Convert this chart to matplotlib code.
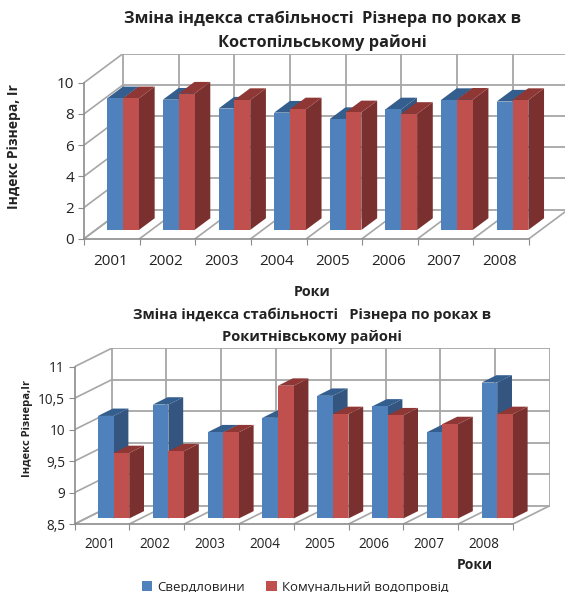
import matplotlib
matplotlib.use("Agg")
import matplotlib.pyplot as plt
from matplotlib.patches import Polygon, Patch

plt.rcParams['font.family'] = ['Open Sans', 'Noto Sans', 'DejaVu Sans']

W, H = 565, 592

years = ['2001', '2002', '2003', '2004', '2005', '2006', '2007', '2008']
series_names = ['Свердловини', 'Комунальний водопровід']

kostopil_wells = [8.44, 8.35, 7.78, 7.52, 7.11, 7.73, 8.33, 8.23]
kostopil_water = [8.44, 8.74, 8.33, 7.73, 7.54, 7.44, 8.35, 8.33]
kostopil_ticks = [0, 2, 4, 6, 8, 10]

rokytne_wells = [10.13, 10.31, 9.87, 10.10, 10.45, 10.28, 9.87, 10.66]
rokytne_water = [9.54, 9.57, 9.87, 10.61, 10.16, 10.14, 10.00, 10.16]
rokytne_ticks = [8.5, 9, 9.5, 10, 10.5, 11]

BLUE = ('#4F81BD', '#345E8E', '#33557F')
RED = ('#C0504D', '#8E3735', '#7A302E')
GRID = '#A6A6A6'
AXIS = '#8C8C8C'
TEXT = '#222222'


def tick_text(v):
    return f'{v:g}'.replace('.', ',')


def draw_bar3d(ax, left, width, base, value, colors, d0, d1, sx, sy):
    """Front face as an ordinary bar, top and side as sheared polygons."""
    fx0, fy0 = d0 * sx, d0 * sy
    ddx, ddy = (d1 - d0) * sx, (d1 - d0) * sy
    x0 = left + fx0
    x1 = x0 + width
    y0 = base + fy0
    y1 = value + fy0
    ax.add_patch(Polygon([(x1, y0), (x1 + ddx, y0 + ddy), (x1 + ddx, y1 + ddy), (x1, y1)],
                         closed=True, fc=colors[2], ec='none', zorder=3))
    ax.add_patch(Polygon([(x0, y1), (x1, y1), (x1 + ddx, y1 + ddy), (x0 + ddx, y1 + ddy)],
                         closed=True, fc=colors[1], ec='none', zorder=3))
    ax.bar(x0, value - base, width=width, bottom=y0, align='edge',
           color=colors[0], linewidth=0, zorder=3)


def draw_chart(box, ticks, wells, water, depth_px, gap, ylab, ylab_xy, ylab_size, tick_size, x_pad):
    x0, x1, ytop, ybot = box
    dx_px, dy_px = depth_px
    lo, hi = ticks[0], ticks[-1]
    sx = dx_px * 8 / (x1 - x0)
    sy = dy_px * (hi - lo) / (ybot - ytop)

    ax = fig.add_axes([x0 / W, 1 - (ybot + 0) / H,
                       (x1 - x0 + dx_px) / W, (ybot - ytop + dy_px) / H])
    ax.set_xlim(0, 8 + sx)
    ax.set_ylim(lo, hi + sy)
    ax.patch.set_alpha(0)

    # back wall, side wall and floor
    for t in ticks:
        ax.plot([sx, 8 + sx], [t + sy, t + sy], color=GRID, lw=1.3, zorder=1)
        ax.plot([0, sx], [t, t + sy], color=GRID, lw=1.2, zorder=1)
    for i in range(9):
        ax.plot([i + sx, i + sx], [lo + sy, hi + sy], color=GRID, lw=1.3, zorder=1)
        ax.plot([i, i + sx], [lo, lo + sy], color=GRID, lw=1.2, zorder=1)

    width = 0.285
    for i, (a, b) in enumerate(zip(wells, water)):
        draw_bar3d(ax, i + gap, width, lo, a, BLUE, 0.3, 0.7, sx, sy)
        draw_bar3d(ax, i + gap + width, width, lo, b, RED, 0.3, 0.7, sx, sy)

    for side in ('top', 'right'):
        ax.spines[side].set_visible(False)
    ax.spines['left'].set_bounds(lo, hi)
    ax.spines['bottom'].set_bounds(0, 8)
    for side in ('left', 'bottom'):
        ax.spines[side].set_color(AXIS)
        ax.spines[side].set_linewidth(1.2)

    ax.set_yticks(ticks, [tick_text(t) for t in ticks])
    ax.set_xticks(range(9), [''] * 9)
    ax.set_xticks([i + 0.47 for i in range(8)], years, minor=True)
    ax.tick_params(axis='y', length=4, color=AXIS, labelsize=tick_size, labelcolor=TEXT, pad=3)
    ax.tick_params(axis='x', which='major', length=4, color=AXIS)
    ax.tick_params(axis='x', which='minor', length=0, labelsize=tick_size, labelcolor=TEXT, pad=x_pad)

    fig.text(ylab_xy[0] / W, 1 - ylab_xy[1] / H, ylab, rotation=90, ha='center', va='center',
             fontsize=ylab_size, fontweight='bold', color=TEXT)
    return ax


fig = plt.figure(figsize=(W / 100, H / 100), dpi=100, facecolor='white')

draw_chart((84, 529, 82.7, 238.7), kostopil_ticks, kostopil_wells, kostopil_water,
           (39.2, 29.2), 0.207, 'Індекс Різнера, Ir', (14, 147), 10, 11, 11)
draw_chart((74.6, 513, 366.7, 524), rokytne_ticks, rokytne_wells, rokytne_water,
           (37, 18.4), 0.224, 'Індекс Різнера,Ir', (27, 428), 8, 9.8, 9.5)

fig.text(322 / W, 1 - 19 / H, 'Зміна індекса стабільності  Різнера по роках в',
         ha='center', va='center', fontsize=11.8, fontweight='bold', color=TEXT)
fig.text(322 / W, 1 - 43 / H, 'Костопільському районі',
         ha='center', va='center', fontsize=11.8, fontweight='bold', color=TEXT)
fig.text(312 / W, 1 - 292 / H, 'Роки', ha='center', va='center',
         fontsize=10.3, fontweight='bold', color=TEXT)

fig.text(312 / W, 1 - 315 / H, 'Зміна індекса стабільності   Різнера по роках в',
         ha='center', va='center', fontsize=10.5, fontweight='bold', color=TEXT)
fig.text(312 / W, 1 - 337 / H, 'Рокитнівському районі',
         ha='center', va='center', fontsize=10.5, fontweight='bold', color=TEXT)
fig.text(475 / W, 1 - 565 / H, 'Роки', ha='center', va='center',
         fontsize=10, fontweight='bold', color=TEXT)

fig.legend(handles=[Patch(fc=BLUE[0]), Patch(fc=RED[0])], labels=series_names, ncol=2,
           loc='center', bbox_to_anchor=(295 / W, 1 - 587 / H), frameon=False,
           fontsize=9.5, labelcolor=TEXT, handlelength=0.8, handleheight=0.8,
           handletextpad=0.4, columnspacing=1.6, borderpad=0, borderaxespad=0)

fig.savefig('out.png', dpi=100)
